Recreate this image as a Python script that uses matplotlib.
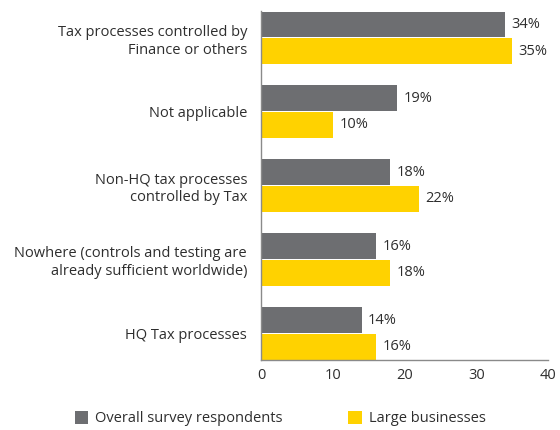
import numpy as np
import matplotlib.pyplot as plt

categories = [
    "Tax processes controlled by\nFinance or others",
    "Not applicable",
    "Non-HQ tax processes\ncontrolled by Tax",
    "Nowhere (controls and testing are\nalready sufficient worldwide)",
    "HQ Tax processes",
]
overall = [34, 19, 18, 16, 14]
large = [35, 10, 22, 18, 16]
series_names = ["Overall survey respondents", "Large businesses"]

GREY = "#6d6e71"
YELLOW = "#ffd200"
TEXT = "#2e2e2e"
FS = 10.5

plt.rcParams["font.family"] = ["Open Sans", "DejaVu Sans"]

fig = plt.figure(figsize=(5.6, 4.3), dpi=100)
ax = fig.add_axes([0.466, 0.163, 0.513, 0.811])

y = np.arange(len(categories))
h = 0.35
b1 = ax.barh(y - 0.18, overall, height=h, color=GREY, label=series_names[0])
b2 = ax.barh(y + 0.18, large, height=h, color=YELLOW, label=series_names[1])

for bars, vals in ((b1, overall), (b2, large)):
    for bar, v in zip(bars, vals):
        ax.text(v + 0.9, bar.get_y() + bar.get_height() / 2, f"{v}%",
                va="center", ha="left", fontsize=FS, color=TEXT)

ax.set_xlim(0, 40)
ax.set_ylim(len(categories) - 1 + 0.36, -0.36)
ax.set_xticks([0, 10, 20, 30, 40])
ax.set_yticks(y)
ax.set_yticklabels(categories, fontsize=FS, color=TEXT, linespacing=1.25)
ax.tick_params(axis="both", length=0, colors=TEXT, labelsize=FS)
ax.tick_params(axis="y", pad=10)
ax.tick_params(axis="x", pad=6)

for side in ("top", "right"):
    ax.spines[side].set_visible(False)
for side in ("left", "bottom"):
    ax.spines[side].set_color("#8a8a8a")
    ax.spines[side].set_linewidth(1.0)

fig.legend(handles=[b1, b2], labels=series_names, loc="center",
           bbox_to_anchor=(0.5, 0.026), ncol=2, frameon=False,
           fontsize=FS, handlelength=0.95, handleheight=0.95,
           handletextpad=0.45, columnspacing=4.5, labelcolor=TEXT)

fig.savefig("out.png", dpi=100)
